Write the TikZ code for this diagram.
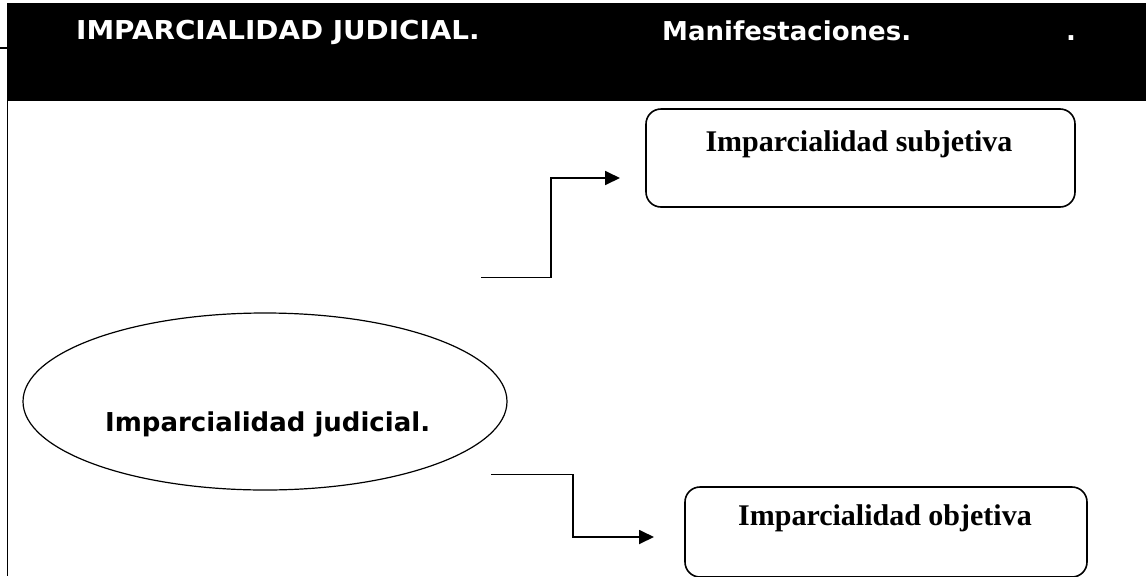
\documentclass[tikz,border=0pt]{standalone}
\usepackage{fontspec}
\setmainfont{Liberation Serif}
\newfontfamily\verd{DejaVu Sans}
\usetikzlibrary{arrows.meta,shapes.geometric}
\begin{document}
\begin{tikzpicture}[x=1pt,y=-1pt,
  vfont/.style={font=\verd\bfseries\fontsize{26}{31}\selectfont},
  hdr/.style={vfont,text=white,inner sep=0pt,anchor=base west},
  rbox/.style={draw,line width=1.6pt,rounded corners=15pt,inner sep=0pt},
  btext/.style={font=\bfseries\fontsize{30}{36}\selectfont,inner sep=0pt,anchor=base},
  conn/.style={line width=1.8pt,-{Triangle[length=15pt,width=14pt]}}]
\useasboundingbox (0,0) rectangle (1146,576);
\fill[black] (7,3) rectangle (1146,101);
\draw[line width=1.8pt] (7.5,101) -- (7.5,576);
\draw[line width=1.2pt] (0,48) -- (7,48);
\node[hdr] (h1) at (76,39) {\scalebox{1.07}[1]{IMPARCIALIDAD JUDICIAL.}};
\node[hdr] (h2) at (662,40) {Manifestaciones.};
\node[hdr] (h3) at (1066,40) {.};
% boxes
\node[rbox,minimum width=429pt,minimum height=98pt] (sub) at (860.5,158) {};
\node[btext] (subt) at (859,151) {Imparcialidad subjetiva};
\node[rbox,minimum width=402pt,minimum height=90pt] (obj) at (886,532) {};
\node[btext] (objt) at (885,525) {Imparcialidad objetiva};
% ellipse
\node[draw,line width=1.2pt,ellipse,minimum width=484pt,minimum height=177pt,inner sep=0pt] (ell) at (265,401.5) {};
\node[vfont,inner sep=0pt,anchor=base west] (ellt) at (105,431) {Imparcialidad judicial.};
% connectors
\coordinate (a1) at (481,277.5);
\coordinate (a2) at (620,178);
\coordinate (b1) at (491,474.5);
\coordinate (b2) at (654,537);
\draw[conn] (a1) -- (551,277.5) -- (551,178) -- (a2);
\draw[conn] (b1) -- (573,474.5) -- (573,537) -- (b2);
\end{tikzpicture}
\end{document}
